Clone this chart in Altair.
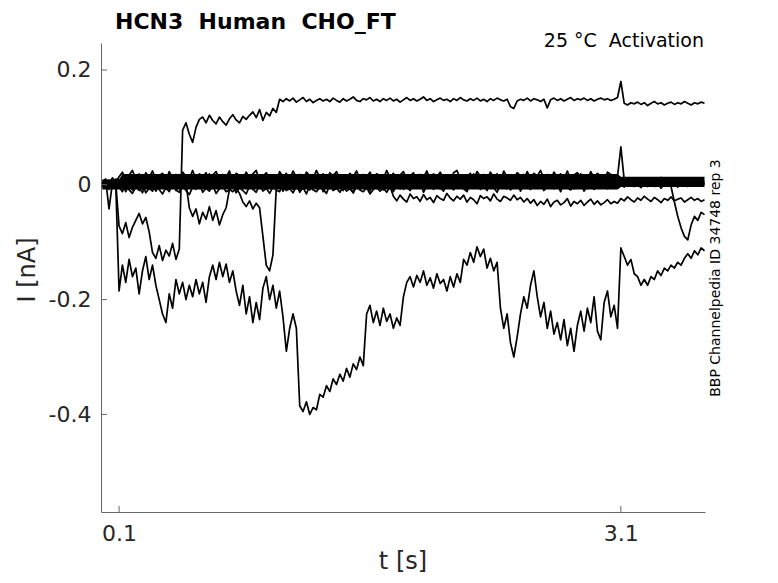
import altair as alt
import pandas as pd

# ---------------- text ----------------
TITLE = "HCN3\u00a0 Human\u00a0 CHO_FT"
CONDITION = "25 \u00b0C\u00a0 Activation"
SIDE_NOTE = "BBP Channelpedia ID 34748 rep 3"
X_TITLE = "t [s]"
Y_TITLE = "I [nA]"

X_TICKS = [0.1, 3.1]
Y_TICKS = [0.2, 0.0, -0.2, -0.4]
X_DOMAIN = [-0.008, 3.603]
Y_DOMAIN = [-0.57, 0.247]

SAMPLE_INTERVAL = 0.02  # s, one value per sample below (pA)

# ---------------- traces (pA) ----------------
trace_a = [3, -4, 5, -2, 4,
           -72, -85, -66, -92, -74, -62, -50, -68, -57, -82,
           -118, -128, -106, -132, -114, -124, -102, -130, -112,
           95, 108, 88, 74, 100, 114, 118, 108, 121, 112, 106, 118, 110, 104, 115,
           122, 113, 108, 119, 114, 121, 127, 117, 131, 112, 126, 120, 133, 126,
           149, 145, 150, 146, 151, 144, 148, 152, 145, 149,
           143, 147, 150, 146, 149, 145, 151, 147, 144, 150,
           146, 149, 153, 147, 145, 150, 148, 152, 146, 149,
           145, 150, 147, 151, 146, 149, 144, 148, 152, 147,
           150, 146, 149, 153, 147, 150, 145, 148, 151, 147,
           149, 145, 150, 147, 152, 148, 146, 150, 147, 151,
           146, 149, 145, 150, 147, 151, 148, 146, 149,
           136, 133,
           146, 149, 147, 151, 146, 150, 148, 145, 149,
           134,
           148, 151, 147, 150, 146, 149, 152, 147, 150, 148, 151,
           147, 150, 146, 149, 151, 148, 150, 147, 149, 152,
           180,
           142, 139, 143, 141, 144, 140, 143, 138, 142, 145, 141, 143, 139, 142, 144,
           140, 143, 141, 145, 142, 139, 143, 141, 144, 142]

trace_b = [3, -4, 6, -2, 4,
           -185, -140, -170, -130, -160, -145, -190, -150, -125, -165, -140, -175, -200, -225,
           -240, -190, -215, -165, -190, -170, -200, -175, -195, -165, -190, -170, -205, -160,
           -140, -165, -135, -160, -138, -170, -150,
           -185, -210, -175, -225, -195, -240, -205, -235, -180, -160, -200, -175, -215, -185, -230,
           -290, -250, -225, -250,
           -385, -395, -378, -400, -388, -392,
           -365, -370, -350, -360, -338, -348, -330, -342, -320, -335, -312, -322, -300, -315,
           -225, -210, -240, -220, -245, -215, -238, -225, -250, -232, -245,
           -195, -170, -160, -178, -158, -170, -150, -175, -162, -180, -155, -172, -165, -185,
           -160, -178, -155, -170,
           -130, -140, -118, -135, -108, -125, -112, -145, -128, -150, -135,
           -215, -250, -225, -275, -300, -265, -225, -195, -215, -175, -150, -195, -230, -205,
           -250, -220, -260, -240, -270, -235, -280, -250, -290, -245, -220, -255, -215, -240,
           -195, -255, -270, -205, -185, -230, -210, -250,
           -110, -125, -140, -130, -155, -160, -175, -165, -175, -160, -165, -150, -158, -145,
           -150, -140, -145, -135, -140, -128, -120, -128, -115, -122, -110, -115]

trace_c = [-3, 6, -8, 2, -5,
           -6, 4, -12, 1, -9, 5, -4, -14, 3, -7, 2, -11, -1, 6, -8, -3, 4, -10, 0, -6, 3,
           -40,
           -55, -42, -68, -48, -60, -38, -62, -45, -70, -52, -40,
           -8, -12, -6, -15,
           -30, -38, -28, -42, -32, -40,
           -90, -140, -150, -122,
           -5, 3, -11, -2, 6, -8, 1, -13, -4, 5, -9, 0, -6, 4, -12, -1, 7, -7, -3, 2,
           -10, 4, -5, -14, 1, -8, 6, -3, -11, 2, -6, 5, -9, -1, 3, -12, 0, -7, 4, -4,
           -10, 2, -6, 6, -13, -2, 3, -8, 1, -5, -11, 4, -3, -9, 5, 0, -7, -12, 2, -4,
           6, -8, -1, -10, 3, -5, -13, 1, -6, 4, -9, -2, 5, -11, 0, -4, -8, 3, -6, 2,
           -10, -3, 5, -7, 0, -12, 4, -5, -9, 1, -6, 3, -11, -2, 6, -8, -4, -1, 2, -7, -5, 1, -3,
           2, -4, 5, -2, 7, 0, -5, 3, -1, 6, -3, 4, -6, 1, 5, -2, 3, -4, 6, 0, -3, 4, -1, 5, -2, 2]

trace_d = [5, -2, 8, -6, 1,
           -4, -12, 2, -9, -15, -3, -10, 1, -14, -6,
           -11, 0, -8, -16, -5, -12, 3, -9, -13, -2,
           -10, -17, -4, -8, 2, -13, -6, -11, -1, -15,
           -7, -3, -12, -9, 1, -14, -5, -10, -16, -2,
           -8, -13, 0, -11, -6, -15, -4, -9, -12, 2,
           -10, -7, -14, -3, -11, -5, -16, -1, -9, -12,
           -4, -8, -15, 0, -10, -6, -13, -3, -11, -7,
           -14, -2, -9, -12, -5, -16, -8, -4, -11, -6, -13, -3,
           -20, -28, -18, -25, -30, -16, -24, -21, -29, -17,
           -26, -22, -31, -19, -24, -27, -15, -23, -28, -20,
           -25, -18, -30, -22, -26, -33, -19, -24, -21, -28,
           -16, -25, -29, -20, -23, -27, -18, -26, -22, -30, -24,
           -32, -26, -36, -29, -34, -25, -38, -30, -27, -35,
           -31, -24, -37, -29, -33, -27, -36, -30, -25, -34,
           -28, -35, -31, -26, -33, -29, -32,
           -24, -28, -21, -26, -30, -23, -27, -20, -25, -29, -22, -26, -31, -24, -27,
           -21, -28, -25, -23, -30, -26, -22, -27, -24, -29, -26]

trace_e = [-1, 4, -6, 7, -3,
           3, -6, 8, -2, 11, -4, 5, -7, 9, 0,
           -5, 7, 12, -3, 4, -8, 10, 1, -2, 6,
           -6, 9, 2, -4, 13, -1, 5, -7, 8, 3,
           -3, 11, -5, 6, 0, -8, 10, 4, -2, 7,
           -4, 12, 1, -6, 9, -1, 5, -7, 8, 2,
           -3, 10, -5, 6, 13, -2, 4, -8, 9, 0,
           -4, 11, 3, -6, 7, -1, 10, -5, 5, 1,
           -7, 12, -2, 6, -4, 9, 2, -6, 8, -3,
           11, 0, -5, 7, 3, -8, 10, -1, 6, -4,
           9, 2, -6, 12, -2, 5, -7, 8, 1, -3,
           10, -5, 6, 0, -8, 11, 3, -4, 7, -1,
           9, -6, 4, 12, -3, 6, -7, 8, 2, -5,
           10, -2, 5, -8, 11, 1, -4, 7, -6, 9,
           0, -3, 12, -5, 6, 2, -7, 8, -1, 4,
           -6, 10, 3, -4, 8, -2, 11, -5, 6, 1,
           5, -1, 7, 2, -3, 6, 0, 8, -2, 4, 9, -1, 5, 2, 6, -3,
           -30, -55, -75, -90, -96, -70, -55, -62, -48, -52]

trace_f = [6, 10, 2, 12, 5,
           14, 22, 8, 17, 25, 10, 19, 6, 21, 13,
           24, 9, 16, 20, 7, 23, 12, 18, 5, 22,
           15, 11, 25, 8, 19, 14, 21, 6, 17, 23,
           10, 18, 13, 24, 7, 20, 16, 9, 22, 12,
           19, 25, 8, 15, 21, 11, 17, 6, 23, 14,
           20, 9, 24, 13, 18, 7, 22, 16, 11, 25,
           12, 19, 8, 21, 15, 23, 10, 17, 6, 20,
           14, 24, 9, 18, 13, 22, 7, 19, 16, 11,
           25, 12, 20, 8, 17, 23, 10, 15, 21, 6,
           18, 13, 24, 9, 19, 14, 22, 11, 16, 7,
           21, 25, 10, 17, 12, 20, 8, 23, 15, 18,
           9, 22, 14, 19, 6, 24, 13, 17, 11, 21,
           16, 8, 23, 12, 20, 15, 25, 10, 18, 7,
           22, 14, 19, 11, 24, 9, 17, 21, 13, 16,
           8, 23, 12, 20, 15, 6, 22, 18, 10, 14,
           66,
           8, 3, 11, 5, 9, 1, 12, 6, 4, 10, 2, 13, 7, 5, 11, 3, 9, 6, 12, 4, 8, 2, 10, 7, 5]

trace_g = [-4, 8, -42, 3, 10,
           9, -3, 15, 2, -6, 12, 5, -1, 18, 0,
           7, -5, 14, 3, 10, -4, 16, 1, -7, 11,
           4, 17, -2, 8, 13, -6, 6, 19, -1, 9,
           2, 14, -5, 11, 5, -3, 16, 7, 0, 12,
           -4, 18, 3, 9, -6, 15, 6, 1, 13, -2,
           10, 17, -5, 4, 12, 8, -1, 16, 2, 7,
           -6, 14, 11, 0, 18, 5, -3, 9, 15, 3,
           -4, 13, 7, 16, -2, 10, 1, 19, 6, -5,
           12, 4, 15, -1, 8, 17, 2, -6, 11, 14,
           0, 9, 18, -3, 6, 13, 3, -5, 16, 7,
           10, -2, 15, 5, 12, -4, 19, 1, 8, 14,
           -1, 11, 4, 17, -6, 9, 13, 2, 16, 6,
           -3, 18, 10, 0, 14, 5, -5, 12, 8, 15,
           3, -2, 17, 9, 11, -4, 13, 6, 19, 1,
           -6, 10, 16, 4, 12, -1, 15, 7, 0, 9,
           4, 9, 0, 7, -2, 10, 3, 6, -3, 8, 1, 5, -1, 9, 2, 6, -2, 7, 3, 10, 0, 5, -1, 8, 4, 2]

# dense core of the overlapping traces around 0 (pA): time breakpoints, upper, lower
band_t = [0.0, 0.10, 0.12, 3.08, 3.10, 3.60]
band_hi = [9, 9, 19, 19, 14, 14]
band_lo = [-8, -8, -8, -8, -4, -4]

TRACES = {"a": trace_a, "b": trace_b, "c": trace_c, "d": trace_d,
          "e": trace_e, "f": trace_f, "g": trace_g}

rows = []
for name, vals in TRACES.items():
    assert len(vals) == 181, (name, len(vals))
    for k, v in enumerate(vals):
        rows.append({"trace": name, "t": round(k * SAMPLE_INTERVAL, 2), "I": v / 1000.0})
df = pd.DataFrame(rows)
band_df = pd.DataFrame({"t": band_t,
                        "hi": [v / 1000.0 for v in band_hi],
                        "lo": [v / 1000.0 for v in band_lo]})

# ---------------- style ----------------
W, H = 604, 469
FONT = "DejaVu Sans"
AXIS_COLOR = "#666666"
LABEL_COLOR = "#262626"

xs = alt.Scale(domain=X_DOMAIN, nice=False, zero=False)
ys = alt.Scale(domain=Y_DOMAIN, nice=False, zero=False)

y_label_expr = ("datum.value == 0 ? '0' : (datum.value < 0 ? '-' + format(-datum.value, '.1f') "
                ": format(datum.value, '.1f'))")

x_axis = alt.Axis(values=X_TICKS, title=None, format=".1f", grid=False,
                  ticks=False, tickSize=0, labelPadding=11, labelFontSize=22,
                  labelFont=FONT, labelColor=LABEL_COLOR, domainColor=AXIS_COLOR,
                  labelFlush=False)
y_axis = alt.Axis(values=Y_TICKS, title=None, grid=False, ticks=False, tickSize=0,
                  labelPadding=10, labelFontSize=22, labelFont=FONT,
                  labelColor=LABEL_COLOR, domainColor=AXIS_COLOR,
                  labelExpr=y_label_expr)

band = alt.Chart(band_df).mark_area(color="black", opacity=1, clip=True).encode(
    x=alt.X("t:Q", scale=xs, axis=x_axis),
    y=alt.Y("hi:Q", scale=ys, axis=y_axis),
    y2="lo:Q",
)

lines = alt.Chart(df).mark_line(color="black", strokeWidth=1.7, clip=True,
                                strokeJoin="round").encode(
    x=alt.X("t:Q", scale=xs, axis=x_axis),
    y=alt.Y("I:Q", scale=ys, axis=y_axis),
    detail="trace:N",
)

xtick = alt.Chart(pd.DataFrame({"t": X_TICKS})).mark_rule(color=AXIS_COLOR, strokeWidth=1).encode(
    x=alt.X("t:Q", scale=xs, axis=x_axis), y=alt.value(H), y2=alt.value(H - 6))
ytick = alt.Chart(pd.DataFrame({"I": Y_TICKS})).mark_rule(color=AXIS_COLOR, strokeWidth=1).encode(
    y=alt.Y("I:Q", scale=ys, axis=y_axis), x=alt.value(0), x2=alt.value(6))


def label(txt, x, y, size, angle=0, weight="normal", align="center", color="black",
          baseline="middle"):
    return alt.Chart(pd.DataFrame({"s": [txt]})).mark_text(
        fontSize=size, fontWeight=weight, align=align, baseline=baseline, angle=angle,
        color=color, font=FONT).encode(x=alt.value(x), y=alt.value(y), text="s:N")


title = label(TITLE, 14, -14, 22, weight="bold", align="left", baseline="alphabetic")
cond = label(CONDITION, 603, 4, 19, align="right", baseline="alphabetic")
side = label(SIDE_NOTE, 615, 235, 14, angle=270)
xlab = label(X_TITLE, 302, 526, 24, color=LABEL_COLOR, baseline="alphabetic")
ylab = label(Y_TITLE, -73, 227, 24, angle=270, color=LABEL_COLOR)

chart = alt.layer(band, lines, xtick, ytick, title, cond, side, xlab, ylab).properties(
    width=W, height=H,
    background="white",
    autosize=alt.AutoSizeParams(type="none"),
    padding={"left": 93, "top": 35, "right": 65, "bottom": 63},
).configure_view(stroke=None)

chart.save("out.html", embed_options={"renderer": "svg", "actions": False})
